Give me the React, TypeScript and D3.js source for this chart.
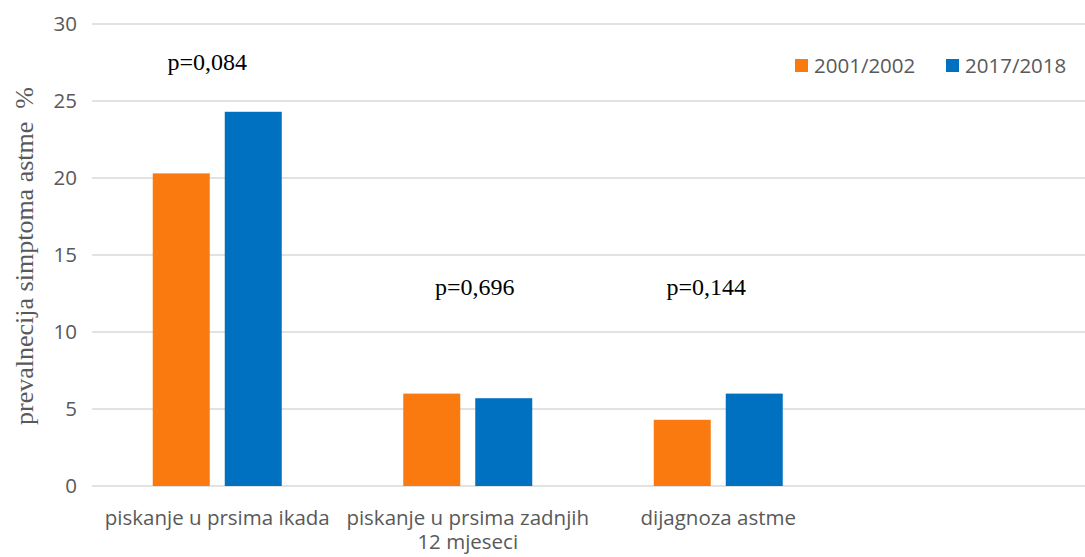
import React from "react";
import * as d3 from "d3";

const categories = ["piskanje u prsima ikada", "piskanje u prsima zadnjih|12 mjeseci", "dijagnoza astme", ""];
const seriesNames = ["2001/2002", "2017/2018"];
const values2001 = [20.3, 6.0, 4.3, null];
const values2017 = [24.3, 5.7, 6.0, null];
const pLabels = ["p=0,084", "p=0,696", "p=0,144"];
const pLabelY = [27, 12.4, 12.4];
const yTicks = [0, 5, 10, 15, 20, 25, 30];
const colors = ["#FA7A10", "#0070C0"];

const W = 1085, H = 557;
const left = 92, right = 1094, top = 24, bottom = 486;

export default function App() {
  const x = d3.scaleBand<string>().domain(categories.map((c, i) => String(i))).range([left, right]);
  const y = d3.scaleLinear().domain([0, 30]).range([bottom, top]);
  const groupW = 129;
  const bw = x.bandwidth();
  const inner = d3.scaleBand<string>().domain(["0", "1"]).range([(bw - groupW) / 2, (bw + groupW) / 2]).paddingInner(15 / 72);
  const series = [values2001, values2017];
  const tickFont = "'Open Sans', sans-serif";
  const serif = "'Liberation Serif', 'Times New Roman', serif";
  return (
    <svg width={W} height={H} style={{ position: "absolute", left: 0, top: 0, background: "#fff" }}>
      {yTicks.map((t) => (
        <g key={t}>
          <line x1={left} x2={right} y1={y(t)} y2={y(t)} stroke="#d9d9d9" strokeWidth={1.5} />
          <text x={77} y={y(t)} dy="0.35em" textAnchor="end" fontFamily={tickFont} fontSize={20.5} fill="#595959">{t}</text>
        </g>
      ))}
      {series.map((vals, si) =>
        vals.map((v, ci) =>
          v == null ? null : (
            <rect key={si + "-" + ci} x={(x(String(ci)) as number) + (inner(String(si)) as number)} y={y(v)} width={inner.bandwidth()} height={y(0) - y(v)} fill={colors[si]} />
          )
        )
      )}
      {categories.map((c, i) => {
        const lines = c.split("|");
        const cx = (x(String(i)) as number) + bw / 2;
        return lines.map((l, li) => (
          <text key={i + "-" + li} x={cx} y={525 + li * 24} textAnchor="middle" fontFamily={tickFont} fontSize={20.5} fill="#595959">{l}</text>
        ));
      })}
      {pLabels.map((p, i) => (
        <text key={p} x={(x(String(i)) as number) + bw / 2 - 10 + (i === 1 ? 17 : i === 2 ? -2 : 0)} y={y(pLabelY[i])} textAnchor="middle" fontFamily={serif} fontSize={24} fill="#000">{p}</text>
      ))}
      <text transform={`translate(33, 256) rotate(-90)`} textAnchor="middle" fontFamily={serif} fontSize={26} fill="#595959" style={{ whiteSpace: "pre" }}>{"prevalnecija simptoma astme  %"}</text>
      {seriesNames.map((s, i) => (
        <g key={s} transform={`translate(${795 + i * 151}, 59)`}>
          <rect x={0} y={0} width={13} height={13} fill={colors[i]} />
          <text x={19} y={13.5} fontFamily={tickFont} fontSize={20.5} fill="#595959">{s}</text>
        </g>
      ))}
    </svg>
  );
}
